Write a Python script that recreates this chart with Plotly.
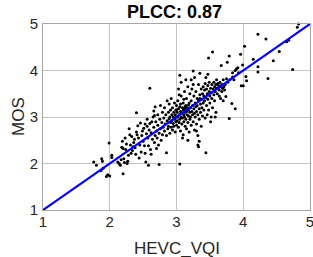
import plotly.graph_objects as go

pts = [
(1.76,2.03),(1.80,1.96),(1.88,2.10),(1.89,2.05),(1.87,1.85),(1.86,0.99),(1.95,1.72),(1.97,1.76),(2.00,1.73),(1.99,2.44),(2.03,2.18),(2.03,2.13),(1.90,1.90),
(2.12,2.03),(2.14,2.00),(2.16,1.96),(2.18,2.35),(2.19,2.48),(2.20,1.78),(2.21,2.10),(2.22,2.02),(2.23,2.55),(2.24,2.30),(2.25,2.42),(2.26,2.00),(2.27,2.05),(2.28,2.18),(2.29,2.75),(2.30,2.62),(2.31,2.40),(2.32,2.22),(2.33,2.58),(2.35,2.36),(2.36,2.45),(2.37,2.52),(2.38,2.34),(2.40,3.09),(2.40,2.68),(2.41,2.62),(2.42,2.81),(2.43,2.55),(2.44,2.12),(2.45,2.40),(2.46,2.87),(2.47,2.25),(2.48,2.60),(2.49,2.70),(2.20,2.32),(2.17,2.08),(2.34,2.28),(2.39,2.20),
(2.50,2.48),(2.51,2.76),(2.52,2.38),(2.53,2.85),(2.54,2.03),(2.55,2.64),(2.56,2.95),(2.57,2.55),(2.58,1.96),(2.58,2.38),(2.59,2.72),(2.60,3.62),(2.60,2.86),(2.61,2.30),(2.62,2.66),(2.63,2.90),(2.64,2.52),(2.65,3.00),(2.66,3.13),(2.66,2.78),(2.67,2.45),(2.68,3.22),(2.68,2.60),(2.69,2.90),(2.70,2.70),(2.71,2.55),(2.72,3.05),(2.72,2.82),(2.73,2.40),(2.74,1.98),(2.74,2.65),(2.75,2.95),(2.76,3.25),(2.76,2.75),(2.77,2.50),(2.78,2.88),(2.79,3.10),(2.79,2.62),(2.80,2.78),(2.53,2.22),(2.62,2.20),(2.70,2.32),(2.56,2.80),(2.67,3.03),
(2.81,2.98),(2.82,2.70),(2.82,3.20),(2.83,2.85),(2.84,3.05),(2.85,2.23),(2.85,2.60),(2.86,2.92),(2.86,3.35),(2.87,2.75),(2.88,3.10),(2.88,2.80),(2.89,3.28),(2.89,2.96),(2.90,2.65),(2.90,3.00),(2.91,2.88),(2.91,3.15),(2.92,2.78),(2.92,3.40),(2.93,3.05),(2.93,2.92),(2.94,2.72),(2.94,3.20),(2.95,2.86),(2.95,3.00),(2.96,3.10),(2.96,2.80),(2.97,3.30),(2.97,2.95),(2.98,2.68),(2.98,3.05),(2.99,2.90),(2.99,3.15),(3.00,3.00),(3.00,2.82),(3.00,3.25),
(3.01,3.10),(3.01,2.92),(3.02,3.35),(3.02,3.00),(3.03,2.78),(3.03,3.18),(3.04,3.05),(3.04,2.88),(3.05,3.90),(3.05,1.99),(3.05,3.22),(3.05,2.95),(3.06,3.12),(3.06,2.70),(3.07,3.00),(3.07,3.45),(3.08,3.08),(3.08,2.85),(3.09,3.20),(3.09,2.98),(3.10,3.15),(3.10,2.62),(3.10,3.30),(3.11,3.05),(3.11,2.90),(3.12,3.55),(3.12,3.18),(3.12,3.00),(3.13,2.80),(3.13,3.10),(3.14,3.25),(3.14,2.95),(3.15,3.12),(3.15,2.75),(3.15,3.40),(3.16,3.05),(3.16,3.20),(3.17,2.88),(3.17,3.65),(3.18,3.15),(3.18,3.02),(3.19,2.68),(3.19,3.30),(3.20,3.10),(3.20,2.95),(3.20,3.50),(3.03,3.60),(3.07,3.75),(3.14,3.80),(3.09,2.55),(3.17,2.50),(3.04,3.48),(3.11,3.38),(3.00,3.15),(3.06,3.28),(3.13,3.22),(3.18,3.26),
(3.21,3.20),(3.21,3.00),(3.22,3.35),(3.22,2.82),(3.23,3.12),(3.23,3.60),(3.24,3.05),(3.24,3.25),(3.25,3.99),(3.25,2.90),(3.26,3.18),(3.26,3.45),(3.27,3.08),(3.27,2.72),(3.28,3.30),(3.28,3.00),(3.29,3.22),(3.29,3.55),(3.30,3.12),(3.30,2.85),(3.31,3.40),(3.31,3.25),(3.32,3.05),(3.32,2.60),(3.33,3.35),(3.33,3.70),(3.34,3.18),(3.34,2.95),(3.35,3.94),(3.35,3.48),(3.36,3.28),(3.36,3.10),(3.37,3.60),(3.37,2.80),(3.38,3.38),(3.38,3.20),(3.39,3.50),(3.39,3.02),(3.40,3.30),(3.40,3.65),(3.33,2.36),(3.32,2.40),(3.34,2.48),(3.22,3.80),(3.27,3.85),(3.30,2.70),(3.25,3.70),(3.35,3.40),
(3.41,3.45),(3.41,3.15),(3.42,3.58),(3.42,3.35),(3.43,2.98),(3.43,3.72),(3.44,3.42),(3.44,2.23),(3.45,3.25),(3.45,3.60),(3.46,3.50),(3.46,3.05),(3.47,3.68),(3.47,3.38),(3.48,4.27),(3.48,3.15),(3.49,3.55),(3.49,3.75),(3.50,3.45),(3.50,3.30),(3.51,3.62),(3.51,2.90),(3.52,3.52),(3.53,3.70),(3.53,3.40),(3.54,4.40),(3.54,3.20),(3.55,3.60),(3.56,3.48),(3.56,3.75),(3.57,3.65),(3.57,3.35),(3.58,3.55),(3.59,3.70),(3.59,3.10),(3.60,3.62),(3.60,3.80),(3.44,3.85),(3.47,3.92),(3.52,3.00),(3.58,3.00),
(3.61,3.50),(3.62,3.72),(3.62,3.62),(3.63,3.68),(3.64,3.45),(3.64,3.58),(3.65,3.75),(3.66,3.65),(3.67,4.11),(3.68,3.55),(3.68,3.70),(3.69,3.62),(3.70,3.80),(3.71,3.65),(3.72,3.58),(3.73,3.70),(3.74,3.44),(3.75,3.82),(3.76,4.18),(3.77,3.75),(3.79,4.31),(3.79,2.97),(3.80,3.80),(3.66,3.40),(3.70,3.35),
(3.83,3.29),(3.84,3.86),(3.86,3.80),(3.88,3.18),(3.90,4.04),(3.92,4.06),(3.93,3.95),(3.96,4.35),(3.97,3.67),(3.99,4.12),(4.00,3.67),(4.02,4.52),(4.04,3.87),(4.05,3.78),(4.15,4.24),(4.22,4.78),(4.22,4.08),(4.22,3.97),(4.34,4.68),(4.37,3.83),(4.45,4.21),(4.54,4.41),(4.65,4.62),(4.68,4.65),(4.74,4.02),(4.81,4.93),(4.83,5.00),(3.84,3.95),(3.88,4.00),
]
hevc_vqi = [p[0] for p in pts]
mos = [p[1] for p in pts]

fit_x = [1, 5]
fit_y = [1, 5]
ticks = [1, 2, 3, 4, 5]

FONT = "Liberation Sans, Arial, Helvetica, sans-serif"

fig = go.Figure()
fig.add_trace(go.Scatter(x=hevc_vqi, y=mos, mode="markers",
                         marker=dict(color="black", size=3, line=dict(width=0)),
                         showlegend=False, cliponaxis=False))
fig.add_trace(go.Scatter(x=fit_x, y=fit_y, mode="lines",
                         line=dict(color="#0000ff", width=2.2), showlegend=False))

axis_common = dict(range=[1, 5], tickvals=ticks, showgrid=True, gridcolor="#c4c4c4",
                   gridwidth=1, showline=True, linecolor="#a6a6a6", linewidth=1,
                   mirror=True, zeroline=False, ticks="", automargin=False,
                   tickfont=dict(family=FONT, size=15, color="#262626"))

fig.update_layout(
    width=316, height=257,
    margin=dict(l=43, r=6, t=24, b=47, autoexpand=False),
    paper_bgcolor="white", plot_bgcolor="white",
    xaxis=dict(**axis_common, ticklabelstandoff=-2),
    yaxis=dict(**axis_common, ticklabelstandoff=1),
    annotations=[
        dict(text="<b>PLCC: 0.87</b>", xref="paper", yref="paper", x=0.5, y=1,
             yshift=12, xshift=-2, xanchor="center", yanchor="middle", showarrow=False,
             font=dict(family=FONT, size=18, color="black")),
        dict(text="HEVC_VQI", xref="paper", yref="paper", x=0.5, y=0,
             yshift=-38, xanchor="center", yanchor="middle", showarrow=False,
             font=dict(family=FONT, size=17, color="#262626")),
        dict(text="MOS", xref="paper", yref="paper", x=0, y=0.5, textangle=-90,
             xshift=-25, xanchor="center", yanchor="middle", showarrow=False,
             font=dict(family=FONT, size=17, color="#262626")),
    ],
)

fig.write_html("out.html", config={"displayModeBar": False},
               post_script="document.body.style.margin='0';document.body.style.overflow='hidden';")
